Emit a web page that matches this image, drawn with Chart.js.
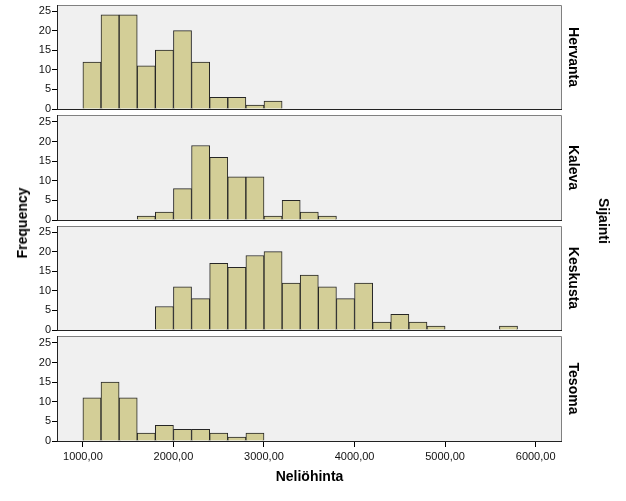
<!DOCTYPE html>
<html>
<head>
<meta charset="utf-8">
<script src="https://cdn.jsdelivr.net/npm/chart.js@4.4.1/dist/chart.umd.min.js"></script>
<style>
  html, body { margin: 0; padding: 0; background: #fff; }
  #wrap { position: relative; width: 626px; height: 501px; overflow: hidden; font-family: Arial, "Liberation Sans", sans-serif; }
  .panel { position: absolute; left: 0; width: 626px; }
  .vlabel { position: absolute; font-weight: bold; font-size: 14px; white-space: nowrap; color: #000; }
  #freq { left: 22px; top: 223px; transform: translate(-50%, -50%) rotate(-90deg); }
  #sij { left: 604px; top: 221px; transform: translate(-50%, -50%) rotate(90deg); }
</style>
</head>
<body>
<div id="wrap">
  <div class="panel" id="p0"><canvas id="c0"></canvas></div>
  <div class="panel" id="p1"><canvas id="c1"></canvas></div>
  <div class="panel" id="p2"><canvas id="c2"></canvas></div>
  <div class="panel" id="p3"><canvas id="c3"></canvas></div>
  <div class="vlabel" id="freq">Frequency</div>
  <div class="vlabel" id="sij">Sijainti</div>
</div>
<script>
// histogram bins (bin start, width 200)
const binStarts = [1000, 1200, 1400, 1600, 1800, 2000, 2200, 2400, 2600, 2800,
                   3000, 3200, 3400, 3600, 3800, 4000, 4200, 4400, 4600, 4800,
                   5000, 5200, 5400, 5600, 5800];
const binWidth = 200;

const locations = ["Hervanta", "Kaleva", "Keskusta", "Tesoma"];

const hervanta = [12, 24, 24, 11, 15, 20, 12, 3, 3, 1, 2, 0, 0, 0, 0, 0, 0, 0, 0, 0, 0, 0, 0, 0, 0];
const kaleva   = [0, 0, 0, 1, 2, 8, 19, 16, 11, 11, 1, 5, 2, 1, 0, 0, 0, 0, 0, 0, 0, 0, 0, 0, 0];
const keskusta = [0, 0, 0, 0, 6, 11, 8, 17, 16, 19, 20, 12, 14, 11, 8, 12, 2, 4, 2, 1, 0, 0, 0, 1, 0];
const tesoma   = [11, 15, 11, 2, 4, 3, 3, 2, 1, 2, 0, 0, 0, 0, 0, 0, 0, 0, 0, 0, 0, 0, 0, 0, 0];
const counts = [hervanta, kaleva, keskusta, tesoma];

const xTicks = [1000, 2000, 3000, 4000, 5000, 6000];
const yTicks = [0, 5, 10, 15, 20, 25];
const xMin = 725, xMax = 6280;

// panel plot areas (top, bottom) in page pixels
const panelTop = [5, 115, 226, 336];
const panelBottom = [109, 220, 330, 441];
const pxPerUnit = 3.92;

Chart.defaults.font.family = 'Arial, "Liberation Sans", sans-serif';
Chart.defaults.color = '#111';

const panelFrame = {
  id: 'panelFrame',
  beforeDraw(chart) {
    const { ctx, chartArea: a } = chart;
    ctx.save();
    ctx.fillStyle = '#f0f0f0';
    ctx.fillRect(a.left, a.top, a.right - a.left, a.bottom - a.top);
    ctx.restore();
  },
  afterDraw(chart, args, opts) {
    const { ctx, chartArea: a } = chart;
    ctx.save();
    ctx.lineWidth = 1;
    ctx.strokeStyle = '#808080';
    ctx.beginPath();
    ctx.moveTo(a.left, a.top + 0.5);
    ctx.lineTo(a.right + 0.5, a.top + 0.5);
    ctx.lineTo(a.right + 0.5, a.bottom);
    ctx.stroke();
    ctx.strokeStyle = '#222';
    ctx.beginPath();
    ctx.moveTo(a.left - 0.5, a.top);
    ctx.lineTo(a.left - 0.5, a.bottom + 0.5);
    ctx.lineTo(a.right + 1, a.bottom + 0.5);
    ctx.stroke();
    // panel name on the right
    ctx.translate(573, (a.top + a.bottom) / 2);
    ctx.rotate(Math.PI / 2);
    ctx.font = 'bold 14px Arial, "Liberation Sans", sans-serif';
    ctx.fillStyle = '#000';
    ctx.textAlign = 'center';
    ctx.textBaseline = 'middle';
    ctx.fillText(opts.label, 0, 0);
    ctx.restore();
  }
};

locations.forEach((loc, i) => {
  const last = i === locations.length - 1;
  const h = panelBottom[i] - panelTop[i];
  const top = panelTop[i] - 5;
  const height = last ? 501 - top : h + 8;
  const box = document.getElementById('p' + i);
  box.style.top = top + 'px';
  box.style.height = height + 'px';

  const data = [];
  binStarts.forEach((b, j) => {
    if (counts[i][j] > 0) data.push({ x: b + binWidth / 2, y: counts[i][j] });
  });

  new Chart(document.getElementById('c' + i), {
    type: 'bar',
    data: {
      datasets: [{
        label: loc,
        data: data,
        backgroundColor: '#d3ce97',
        borderColor: '#262626',
        borderWidth: 1,
        borderSkipped: 'bottom',
        barPercentage: 1,
        categoryPercentage: 1
      }]
    },
    options: {
      responsive: true,
      maintainAspectRatio: false,
      animation: false,
      events: [],
      layout: { padding: { top: 5, right: 65, bottom: last ? 0 : 3, left: 0 } },
      plugins: {
        legend: { display: false },
        tooltip: { enabled: false },
        panelFrame: { label: loc }
      },
      scales: {
        x: {
          type: 'linear',
          display: last,
          offset: false,
          min: xMin,
          max: xMax,
          afterBuildTicks: s => { s.ticks = xTicks.map(v => ({ value: v })); },
          afterFit: s => {
            if (last) s.height = 60;
            s.paddingLeft = 0; s.paddingRight = 0;
          },
          grid: { offset: false, drawOnChartArea: false, drawTicks: true, tickLength: 6, color: '#000' },
          border: { display: false },
          ticks: {
            font: { size: 11 },
            padding: 3,
            maxRotation: 0,
            autoSkip: false,
            callback: v => v.toFixed(2).replace('.', ',')
          },
          title: {
            display: true,
            text: 'Neliöhinta',
            color: '#000',
            font: { size: 14, weight: 'bold' },
            padding: { top: 0, bottom: 15 }
          }
        },
        y: {
          min: 0,
          max: h / pxPerUnit,
          afterBuildTicks: s => { s.ticks = yTicks.map(v => ({ value: v })); },
          afterFit: s => {
            s.width = 58;
            s.paddingTop = 0; s.paddingBottom = 0;
          },
          grid: { drawOnChartArea: false, drawTicks: true, tickLength: 6, color: '#000' },
          border: { display: false },
          ticks: { font: { size: 11 }, padding: 1, autoSkip: false }
        }
      }
    },
    plugins: [panelFrame]
  });
});
</script>
</body>
</html>
